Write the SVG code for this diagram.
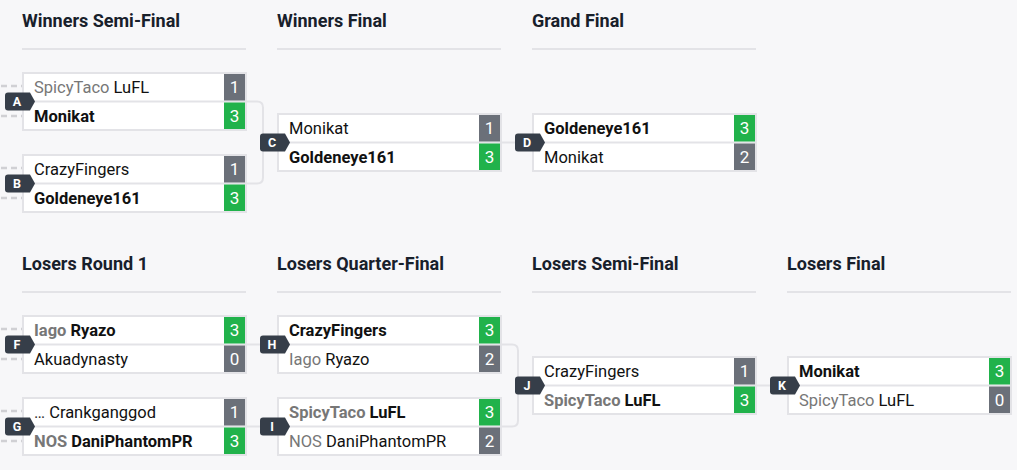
<svg xmlns="http://www.w3.org/2000/svg" width="1017" height="470" viewBox="0 0 1017 470">
<style>
.bg{fill:#f7f7f9}
.hdr{font-family:Roboto,"Liberation Sans",sans-serif;font-size:18px;font-weight:700;fill:#18202b}
.rule{stroke:#dcdce0;stroke-width:1.5}
.box{fill:#fff;stroke:#e3e3e7;stroke-width:2}
.div{stroke:#e3e3e7;stroke-width:2}
.nm{font-family:Roboto,"Liberation Sans",sans-serif;font-size:16.5px;fill:#111}
.b{font-weight:700}
.g{fill:#777}
.win{fill:#21b24b}
.los{fill:#6b7079}
.sc{font-family:Roboto,"Liberation Sans",sans-serif;font-size:17px;fill:#fff;text-anchor:middle}
.bd{fill:#363e49}
.bt{font-family:Roboto,"Liberation Sans",sans-serif;font-size:12.5px;font-weight:700;fill:#fff;text-anchor:middle}
.con{fill:none;stroke:#e3e3e7;stroke-width:2}
.stub{stroke:#d0d0d4;stroke-width:2.5;stroke-dasharray:6 4}
</style>
<defs>
<path id="badge" d="M-14,20.5 H8 L13,29.5 L8,38.5 H-14 Q-17,38.5 -17,35.5 V23.5 Q-17,20.5 -14,20.5 Z"/>
</defs>
<rect class="bg" x="0" y="0" width="1017" height="470"/>

<g id="headers">
<text class="hdr" x="22" y="27">Winners Semi-Final</text>
<line class="rule" x1="22" y1="49" x2="246" y2="49"/>
<text class="hdr" x="277" y="27">Winners Final</text>
<line class="rule" x1="277" y1="49" x2="501" y2="49"/>
<text class="hdr" x="532" y="27">Grand Final</text>
<line class="rule" x1="532" y1="49" x2="756" y2="49"/>
<text class="hdr" x="22" y="270">Losers Round 1</text>
<line class="rule" x1="22" y1="292" x2="246" y2="292"/>
<text class="hdr" x="277" y="270">Losers Quarter-Final</text>
<line class="rule" x1="277" y1="292" x2="501" y2="292"/>
<text class="hdr" x="532" y="270">Losers Semi-Final</text>
<line class="rule" x1="532" y1="292" x2="756" y2="292"/>
<text class="hdr" x="787" y="270">Losers Final</text>
<line class="rule" x1="787" y1="292" x2="1011" y2="292"/>
</g>

<g id="connectors">
<path class="con" d="M246,101.5 H257 Q263,101.5 263,107.5 V177.5 Q263,183.5 257,183.5 H246"/>
<path class="con" d="M501,142.5 H520"/>
<path class="con" d="M246,344.5 H265"/>
<path class="con" d="M246,426.5 H265"/>
<path class="con" d="M501,344.5 H512 Q518,344.5 518,350.5 V420.5 Q518,426.5 512,426.5 H501"/>
<path class="con" d="M756,385.5 H775"/>
<line class="stub" x1="1" y1="86" x2="22" y2="86"/>
<line class="stub" x1="1" y1="116" x2="22" y2="116"/>
<line class="stub" x1="1" y1="168" x2="22" y2="168"/>
<line class="stub" x1="1" y1="198" x2="22" y2="198"/>
<line class="stub" x1="1" y1="329" x2="22" y2="329"/>
<line class="stub" x1="1" y1="359" x2="22" y2="359"/>
<line class="stub" x1="1" y1="411" x2="22" y2="411"/>
<line class="stub" x1="1" y1="441" x2="22" y2="441"/>
</g>

<g id="match-A" transform="translate(22,72)">
<rect class="box" x="1" y="1" width="223" height="57"/>
<line class="div" x1="1" y1="29.5" x2="224" y2="29.5"/>
<rect class="los" x="202" y="2" width="21" height="26.5"/>
<rect class="win" x="202" y="30.5" width="21" height="26.5"/>
<text class="nm" x="12" y="21"><tspan class="g">SpicyTaco</tspan> LuFL</text>
<text class="nm b" x="12" y="49.5">Monikat</text>
<text class="sc" x="212.5" y="21">1</text>
<text class="sc" x="212.5" y="49.5">3</text>
<use href="#badge" class="bd"/><text class="bt" x="-5" y="34">A</text>
</g>

<g id="match-B" transform="translate(22,154)">
<rect class="box" x="1" y="1" width="223" height="57"/>
<line class="div" x1="1" y1="29.5" x2="224" y2="29.5"/>
<rect class="los" x="202" y="2" width="21" height="26.5"/>
<rect class="win" x="202" y="30.5" width="21" height="26.5"/>
<text class="nm" x="12" y="21">CrazyFingers</text>
<text class="nm b" x="12" y="49.5">Goldeneye161</text>
<text class="sc" x="212.5" y="21">1</text>
<text class="sc" x="212.5" y="49.5">3</text>
<use href="#badge" class="bd"/><text class="bt" x="-5" y="34">B</text>
</g>

<g id="match-C" transform="translate(277,113)">
<rect class="box" x="1" y="1" width="223" height="57"/>
<line class="div" x1="1" y1="29.5" x2="224" y2="29.5"/>
<rect class="los" x="202" y="2" width="21" height="26.5"/>
<rect class="win" x="202" y="30.5" width="21" height="26.5"/>
<text class="nm" x="12" y="21">Monikat</text>
<text class="nm b" x="12" y="49.5">Goldeneye161</text>
<text class="sc" x="212.5" y="21">1</text>
<text class="sc" x="212.5" y="49.5">3</text>
<use href="#badge" class="bd"/><text class="bt" x="-5" y="34">C</text>
</g>

<g id="match-D" transform="translate(532,113)">
<rect class="box" x="1" y="1" width="223" height="57"/>
<line class="div" x1="1" y1="29.5" x2="224" y2="29.5"/>
<rect class="win" x="202" y="2" width="21" height="26.5"/>
<rect class="los" x="202" y="30.5" width="21" height="26.5"/>
<text class="nm b" x="12" y="21">Goldeneye161</text>
<text class="nm" x="12" y="49.5">Monikat</text>
<text class="sc" x="212.5" y="21">3</text>
<text class="sc" x="212.5" y="49.5">2</text>
<use href="#badge" class="bd"/><text class="bt" x="-5" y="34">D</text>
</g>

<g id="match-F" transform="translate(22,315)">
<rect class="box" x="1" y="1" width="223" height="57"/>
<line class="div" x1="1" y1="29.5" x2="224" y2="29.5"/>
<rect class="win" x="202" y="2" width="21" height="26.5"/>
<rect class="los" x="202" y="30.5" width="21" height="26.5"/>
<text class="nm b" x="12" y="21"><tspan class="g">Iago</tspan> Ryazo</text>
<text class="nm" x="12" y="49.5">Akuadynasty</text>
<text class="sc" x="212.5" y="21">3</text>
<text class="sc" x="212.5" y="49.5">0</text>
<use href="#badge" class="bd"/><text class="bt" x="-5" y="34">F</text>
</g>

<g id="match-G" transform="translate(22,397)">
<rect class="box" x="1" y="1" width="223" height="57"/>
<line class="div" x1="1" y1="29.5" x2="224" y2="29.5"/>
<rect class="los" x="202" y="2" width="21" height="26.5"/>
<rect class="win" x="202" y="30.5" width="21" height="26.5"/>
<text class="nm" x="12" y="21"><tspan fill="#333">…</tspan> Crankganggod</text>
<text class="nm b" x="12" y="49.5"><tspan class="g">NOS</tspan> DaniPhantomPR</text>
<text class="sc" x="212.5" y="21">1</text>
<text class="sc" x="212.5" y="49.5">3</text>
<use href="#badge" class="bd"/><text class="bt" x="-5" y="34">G</text>
</g>

<g id="match-H" transform="translate(277,315)">
<rect class="box" x="1" y="1" width="223" height="57"/>
<line class="div" x1="1" y1="29.5" x2="224" y2="29.5"/>
<rect class="win" x="202" y="2" width="21" height="26.5"/>
<rect class="los" x="202" y="30.5" width="21" height="26.5"/>
<text class="nm b" x="12" y="21">CrazyFingers</text>
<text class="nm" x="12" y="49.5"><tspan class="g">Iago</tspan> Ryazo</text>
<text class="sc" x="212.5" y="21">3</text>
<text class="sc" x="212.5" y="49.5">2</text>
<use href="#badge" class="bd"/><text class="bt" x="-5" y="34">H</text>
</g>

<g id="match-I" transform="translate(277,397)">
<rect class="box" x="1" y="1" width="223" height="57"/>
<line class="div" x1="1" y1="29.5" x2="224" y2="29.5"/>
<rect class="win" x="202" y="2" width="21" height="26.5"/>
<rect class="los" x="202" y="30.5" width="21" height="26.5"/>
<text class="nm b" x="12" y="21"><tspan class="g">SpicyTaco</tspan> LuFL</text>
<text class="nm" x="12" y="49.5"><tspan class="g">NOS</tspan> DaniPhantomPR</text>
<text class="sc" x="212.5" y="21">3</text>
<text class="sc" x="212.5" y="49.5">2</text>
<use href="#badge" class="bd"/><text class="bt" x="-5" y="34">I</text>
</g>

<g id="match-J" transform="translate(532,356)">
<rect class="box" x="1" y="1" width="223" height="57"/>
<line class="div" x1="1" y1="29.5" x2="224" y2="29.5"/>
<rect class="los" x="202" y="2" width="21" height="26.5"/>
<rect class="win" x="202" y="30.5" width="21" height="26.5"/>
<text class="nm" x="12" y="21">CrazyFingers</text>
<text class="nm b" x="12" y="49.5"><tspan class="g">SpicyTaco</tspan> LuFL</text>
<text class="sc" x="212.5" y="21">1</text>
<text class="sc" x="212.5" y="49.5">3</text>
<use href="#badge" class="bd"/><text class="bt" x="-5" y="34">J</text>
</g>

<g id="match-K" transform="translate(787,356)">
<rect class="box" x="1" y="1" width="223" height="57"/>
<line class="div" x1="1" y1="29.5" x2="224" y2="29.5"/>
<rect class="win" x="202" y="2" width="21" height="26.5"/>
<rect class="los" x="202" y="30.5" width="21" height="26.5"/>
<text class="nm b" x="12" y="21">Monikat</text>
<text class="nm" x="12" y="49.5"><tspan class="g">SpicyTaco</tspan> LuFL</text>
<text class="sc" x="212.5" y="21">3</text>
<text class="sc" x="212.5" y="49.5">0</text>
<use href="#badge" class="bd"/><text class="bt" x="-5" y="34">K</text>
</g>
</svg>
